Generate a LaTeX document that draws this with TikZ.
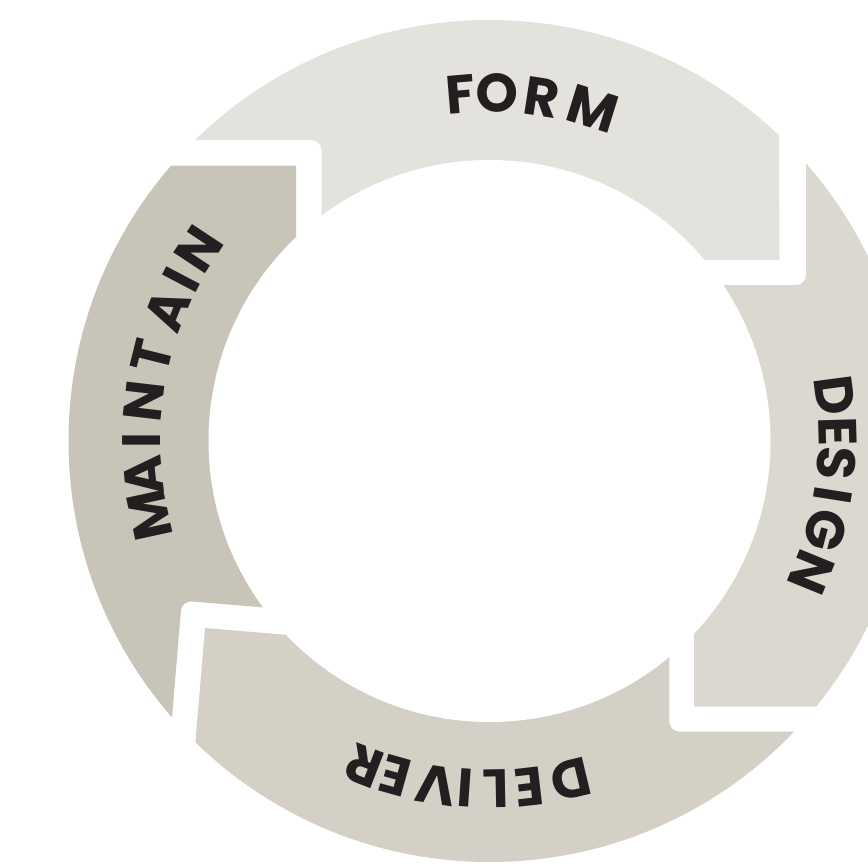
\documentclass[tikz,border=0pt]{standalone}
\usepackage{fontspec}
\newfontfamily\lblfont{Poppins}
\definecolor{cform}{RGB}{228,226,220}
\definecolor{cdesign}{RGB}{219,217,207}
\definecolor{cdeliver}{RGB}{212,208,198}
\definecolor{cmaintain}{RGB}{201,196,184}
\definecolor{ink}{RGB}{35,31,32}
\tikzset{
  lbl/.style={inner sep=0pt, outer sep=0pt, text=ink, font=\lblfont\bfseries\fontsize{54}{54}\selectfont, anchor=center},
}
\begin{document}
\begin{tikzpicture}[x=1pt,y=-1pt]
\useasboundingbox (0,0) rectangle (868,863);
\coordinate (c) at (489.5,441);
\begin{scope}
  \clip (c) circle[radius=421];
  % FORM
  \fill[cform] (779,-50) -- (100,-50) [rounded corners=10] -- (100,140) -- (321.5,140) -- (321.5,260) [sharp corners] -- (779.3,260) -- cycle;
  % DESIGN
  \fill[cdesign] (950,100) -- (806,100) [rounded corners=10] -- (806,285) -- (694,285) [sharp corners] -- (694,706.7) -- (950,706.7) -- cycle;
  % DELIVER
  \fill[cdeliver] (404.3,644.7) -- (669.3,600) [rounded corners=10] -- (669.3,731.7) -- (850,731.7) [sharp corners] -- (850,907) -- (181.6,907) -- (205,628) -- cycle;
  % MAINTAIN
  \fill[cmaintain] (0,800) -- (0,165.7) -- (296,165.7) -- (296,400) -- (301.4,610.6) [rounded corners=10] -- (181.8,600.6) -- (165.1,799.9) [sharp corners] -- cycle;
\end{scope}
\fill[white] (c) circle[radius=281];
% FORM letters
\foreach \ch/\ang/\nm in {F/94.8/f1, O/88.7/f2, R/81.3/f3, M/72.8/f4}
  \node[lbl, rotate=\ang-90] (\nm) at ({489.5+348*cos(\ang)},{441-348*sin(\ang)}) {\ch};
% DESIGN letters
\foreach \ch/\ang/\nm in {D/7.5/d1, E/1.6/d2, S/-3.6/d3, I/-9.0/d4, G/-14.8/d5, N/-22.2/d6}
  \node[lbl, rotate=\ang-90] (\nm) at ({489.5+348*cos(\ang)},{441-348*sin(\ang)}) {\ch};
% DELIVER letters
\foreach \ch/\ang/\nm in {D/-76.5/v1, E/-83.4/v2, L/-88.9/v3, I/-94.0/v4, V/-98.8/v5, E/-105.7/v6, R/-111.1/v7}
  \node[lbl, rotate=\ang-90] (\nm) at ({489.5+348*cos(\ang)},{441-348*sin(\ang)}) {\ch};
% MAINTAIN letters
\foreach \ch/\ang/\nm in {M/192.3/m1, A/185.7/m2, I/180/m3, N/173.4/m4, T/166.0/m5, A/157.9/m6, I/152.3/m7, N/146.5/m8}
  \node[lbl, rotate=\ang-90] (\nm) at ({489.5+348*cos(\ang)},{441-348*sin(\ang)}) {\ch};
\end{tikzpicture}
\end{document}
